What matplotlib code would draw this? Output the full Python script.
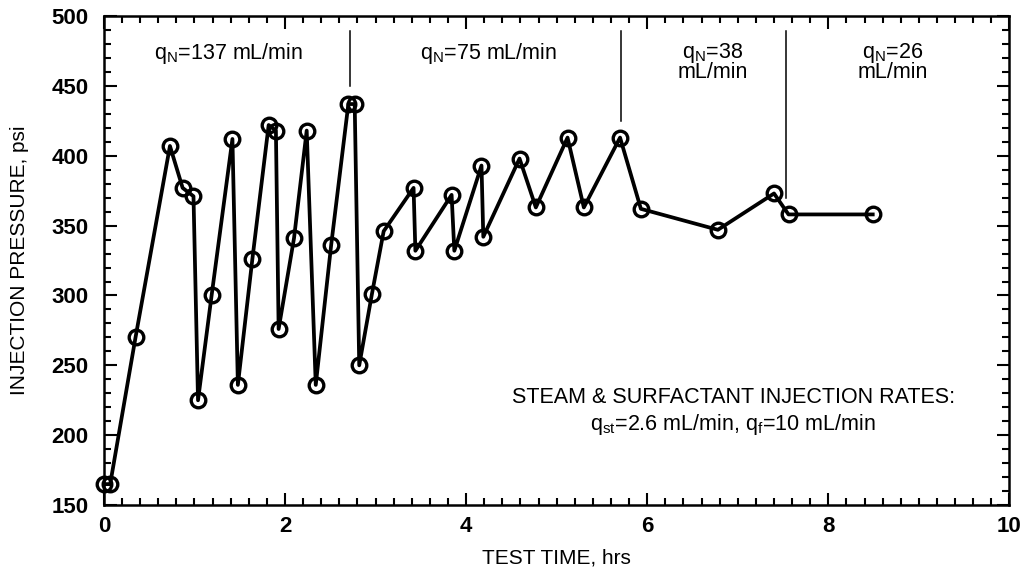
import matplotlib.pyplot as plt
from matplotlib.ticker import MultipleLocator

plt.rcParams['font.family'] = ['Liberation Sans', 'DejaVu Sans']
plt.rcParams['mathtext.default'] = 'regular'

# injection pressure history (hrs, psi)
time_hrs = [0.0, 0.07, 0.35, 0.73, 0.87, 0.99, 1.04, 1.19, 1.42, 1.48, 1.64,
            1.82, 1.90, 1.93, 2.10, 2.24, 2.34, 2.51, 2.70, 2.77, 2.82, 2.96,
            3.09, 3.42, 3.44, 3.84, 3.87, 4.17, 4.19, 4.59, 4.77, 5.12, 5.30,
            5.70, 5.93, 6.78, 7.40, 7.56, 8.49]
pressure_psi = [165, 165, 270, 407, 377, 371, 225, 300, 412, 236, 326,
                422, 418, 276, 341, 418, 236, 336, 437, 437, 250, 301,
                346, 377, 332, 372, 332, 393, 342, 398, 363, 413, 363,
                413, 362, 347, 373, 358, 358]

# rate change markers
divider_x = [2.72, 5.71, 7.53]
divider_bottom = [450, 425, 370]
divider_top = 489

rate_labels = ['q$_N$=137 mL/min', 'q$_N$=75 mL/min', 'q$_N$=38\nmL/min', 'q$_N$=26\nmL/min']
rate_x = [1.38, 4.25, 6.72, 8.71]

fig = plt.figure(figsize=(10.28, 5.72), dpi=100)
ax = fig.add_axes([0.101, 0.117, 0.881, 0.855])

ax.plot(time_hrs, pressure_psi, color='black', lw=2.7, marker='o', ms=10.5,
        mfc='none', mec='black', mew=2.4, clip_on=False, zorder=3)

for x, yb in zip(divider_x, divider_bottom):
    ax.plot([x, x], [yb, divider_top], color='black', lw=1.1)

for lab, x in zip(rate_labels, rate_x):
    ax.text(x, 482, lab, ha='center', va='top', fontsize=15.5, linespacing=0.8)

ax.text(6.95, 227, 'STEAM & SURFACTANT INJECTION RATES:', ha='center', va='center', fontsize=15.5)
ax.text(6.95, 208, 'q$_{st}$=2.6 mL/min, q$_f$=10 mL/min', ha='center', va='center', fontsize=15.5)

ax.set_xlim(0, 10)
ax.set_ylim(150, 500)
ax.xaxis.set_major_locator(MultipleLocator(2))
ax.xaxis.set_minor_locator(MultipleLocator(0.2))
ax.yaxis.set_major_locator(MultipleLocator(50))
ax.yaxis.set_minor_locator(MultipleLocator(10))
ax.tick_params(which='both', direction='in', top=True, right=True, width=1.5)
ax.tick_params(which='major', length=9, labelsize=16)
ax.tick_params(axis='y', which='major', pad=11)
ax.tick_params(axis='x', which='major', pad=8)
ax.tick_params(which='minor', length=5)
for t in ax.get_xticklabels() + ax.get_yticklabels():
    t.set_fontweight('bold')
for s in ax.spines.values():
    s.set_linewidth(1.8)

ax.set_xlabel('TEST TIME, hrs', fontsize=15, labelpad=8)
ax.set_ylabel('INJECTION PRESSURE, psi', fontsize=15, labelpad=16)

fig.savefig('out.png', dpi=100)
